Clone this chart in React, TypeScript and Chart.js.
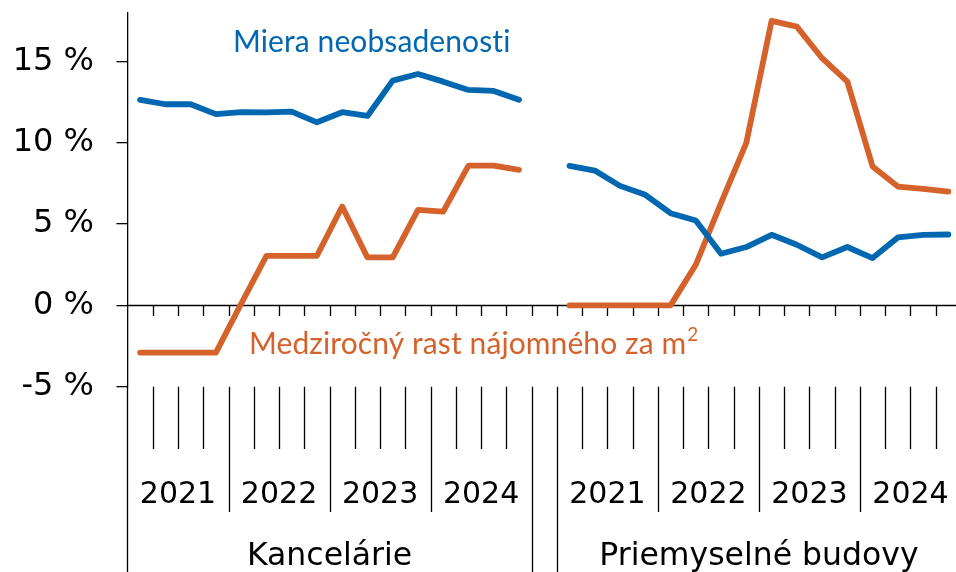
import React, { useEffect, useRef } from 'react';
import { Chart, registerables } from 'chart.js';

Chart.register(...registerables);

// ---- data ----
const groups = ['Kancelárie', 'Priemyselné budovy'];
const years = ['2021', '2022', '2023', '2024'];
const quarters = ['Q1', 'Q2', 'Q3', 'Q4'];
const yTicks = [-5, 0, 5, 10, 15];
const seriesNames = ['Miera neobsadenosti', 'Medziročný rast nájomného za m²'];

// Miera neobsadenosti (%)
const vacancyOffices = [12.64, 12.37, 12.37, 11.76, 11.88, 11.87, 11.92, 11.26, 11.88, 11.65, 13.82, 14.23, 13.76, 13.25, 13.19, 12.64];
const vacancyIndustrial = [8.58, 8.29, 7.35, 6.8, 5.67, 5.22, 3.18, 3.59, 4.34, 3.73, 2.95, 3.59, 2.91, 4.18, 4.34, 4.36];
// Medziročný rast nájomného za m2 (%)
const rentOffices = [-2.9, -2.9, -2.9, -2.9, 0.1, 3.05, 3.05, 3.05, 6.08, 2.95, 2.95, 5.88, 5.77, 8.6, 8.6, 8.34];
const rentIndustrial = [0, 0, 0, 0, 0, 2.5, 6.3, 10.0, 17.5, 17.14, 15.2, 13.76, 8.54, 7.31, 7.17, 7.0];

const BLUE = '#0067B0';
const ORANGE = '#D5622A';
const AXIS_FONT = '"DejaVu Sans", Verdana, sans-serif';
const NOTE_FONT = 'Lato, "Open Sans", sans-serif';

const perGroup = years.length * quarters.length;
const labels: string[] = [];
groups.forEach((g, gi) => {
  years.forEach((y) => quarters.forEach((q) => labels.push(`${g} ${y} ${q}`)));
  if (gi < groups.length - 1) labels.push('');
});
const vacancyData = [...vacancyOffices, null, ...vacancyIndustrial];
const rentData = [...rentOffices, null, ...rentIndustrial];

const decorPlugin = {
  id: 'decor',
  beforeDatasetsDraw(chart: any) {
    const { ctx, chartArea, scales } = chart;
    const x = scales.x;
    const y = scales.y;
    const w = x.getPixelForValue(1) - x.getPixelForValue(0);
    const y0 = Math.round(y.getPixelForValue(0)) + 0.5;
    ctx.save();
    ctx.strokeStyle = '#000';
    ctx.lineWidth = 1.3;
    ctx.beginPath();
    ctx.moveTo(chartArea.left, y0);
    ctx.lineTo(chartArea.right, y0);
    for (let k = 1; k < labels.length; k++) {
      const bx = Math.round(x.getPixelForValue(k) - w / 2) + 0.5;
      ctx.moveTo(bx, y0);
      ctx.lineTo(bx, y0 + 10.5);
    }
    ctx.stroke();
    ctx.restore();
  },
  afterDraw(chart: any) {
    const { ctx, chartArea, scales } = chart;
    const x = scales.x;
    const w = x.getPixelForValue(1) - x.getPixelForValue(0);
    const bottom = chartArea.bottom;
    const row1 = bottom + 62.3;
    const row2 = bottom + 125.3;
    const row3 = chart.height;
    const bpx = (k: number) => Math.round(x.getPixelForValue(k) - w / 2) + 0.5;
    ctx.save();
    ctx.strokeStyle = '#000';
    ctx.lineWidth = 1.3;
    ctx.beginPath();
    // axis extension
    ctx.moveTo(chartArea.left, bottom);
    ctx.lineTo(chartArea.left, row3);
    const groupStarts: number[] = [];
    let idx = 0;
    groups.forEach((g, gi) => {
      groupStarts.push(idx);
      idx += perGroup + (gi < groups.length - 1 ? 1 : 0);
    });
    for (let k = 1; k < labels.length; k++) {
      let end = row1;
      groupStarts.forEach((s, gi) => {
        const rel = k - s;
        if (rel > 0 && rel < perGroup && rel % quarters.length === 0) end = row2;
        if (rel === perGroup && gi < groups.length - 1) end = row3;
        if (k === s && gi > 0) end = row3;
      });
      ctx.moveTo(bpx(k), bottom);
      ctx.lineTo(bpx(k), end);
    }
    ctx.stroke();

    // labels
    ctx.fillStyle = '#000';
    ctx.textAlign = 'center';
    ctx.textBaseline = 'alphabetic';
    ctx.font = `30px ${AXIS_FONT}`;
    groupStarts.forEach((s) => {
      years.forEach((yr, yi) => {
        const a = s + yi * quarters.length;
        const b = a + quarters.length;
        const cx = (x.getPixelForValue(a) + x.getPixelForValue(b - 1)) / 2;
        ctx.fillText(yr, cx, bottom + 116.5);
      });
    });
    ctx.font = `31.5px ${AXIS_FONT}`;
    groupStarts.forEach((s, gi) => {
      const cx = (x.getPixelForValue(s) + x.getPixelForValue(s + perGroup - 1)) / 2;
      ctx.fillText(groups[gi], cx, bottom + 178.5);
    });

    // series notes
    ctx.textAlign = 'left';
    try { (ctx as any).letterSpacing = '0.1px'; } catch (e) { /* ignore */ }
    ctx.font = `30px ${NOTE_FONT}`;
    ctx.fillStyle = BLUE;
    ctx.fillText(seriesNames[0], 233, 51.5);
    ctx.fillStyle = ORANGE;
    const base = seriesNames[1].replace('²', '');
    ctx.fillText(base, 249, 353.5);
    const bw = ctx.measureText(base).width;
    ctx.font = `19px ${NOTE_FONT}`;
    ctx.fillText('2', 249 + bw + 1, 341);
    ctx.restore();
  },
};

export default function App() {
  const ref = useRef<HTMLCanvasElement | null>(null);
  useEffect(() => {
    if (!ref.current) return;
    const chart = new Chart(ref.current, {
      type: 'line',
      data: {
        labels,
        datasets: [
          {
            label: seriesNames[0],
            data: vacancyData,
            borderColor: BLUE,
            backgroundColor: BLUE,
            borderWidth: 5.8,
            pointRadius: 0,
            borderCapStyle: 'round',
            borderJoinStyle: 'round',
            spanGaps: false,
            tension: 0,
          },
          {
            label: seriesNames[1],
            data: rentData,
            borderColor: ORANGE,
            backgroundColor: ORANGE,
            borderWidth: 5.8,
            pointRadius: 0,
            borderCapStyle: 'round',
            borderJoinStyle: 'round',
            spanGaps: false,
            tension: 0,
          },
        ],
      },
      options: {
        animation: false,
        responsive: false,
        devicePixelRatio: 1,
        layout: { padding: { top: 12.7, bottom: 185.3, right: 3, left: 0 } },
        plugins: { legend: { display: false }, tooltip: { enabled: false } },
        scales: {
          x: { type: 'category', offset: true, display: false },
          y: {
            min: -5,
            max: 18,
            afterFit: (s: any) => {
              s.width = 127.5;
              s.paddingTop = 0;
              s.paddingBottom = 0;
            },
            afterBuildTicks: (s: any) => { s.ticks = yTicks.map((v) => ({ value: v })); },
            ticks: {
              includeBounds: false,
              padding: 22.5,
              color: '#000',
              font: { family: AXIS_FONT, size: 32 },
              callback: (v: any) => `${v} %`,
            },
            grid: { drawOnChartArea: false, drawTicks: true, tickLength: 11, color: '#000', lineWidth: 1.3 },
            border: { display: true, color: '#000', width: 1.3 },
          },
        },
      },
      plugins: [decorPlugin],
    });
    return () => chart.destroy();
  }, []);
  return (
    <div style={{ position: 'absolute', left: 0, top: 0, width: 956, height: 572, overflow: 'hidden', background: '#fff' }}>
      <canvas ref={ref} width={964} height={572} style={{ width: 964, height: 572, display: 'block' }} />
    </div>
  );
}
